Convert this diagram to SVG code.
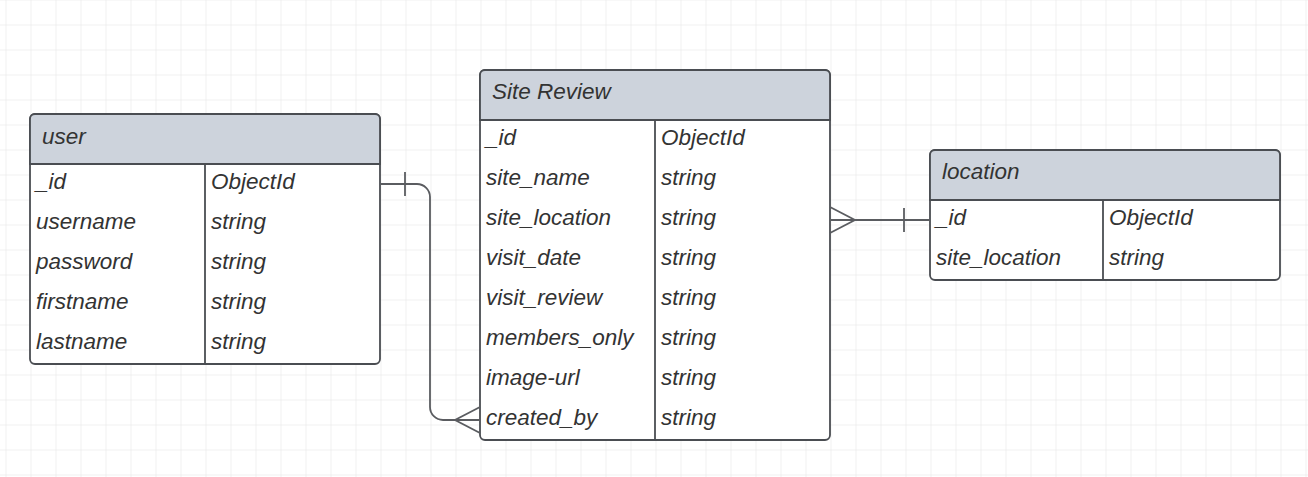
<svg xmlns="http://www.w3.org/2000/svg" width="1308" height="477" viewBox="0 0 1308 477">
<defs>
<pattern id="grid" x="5.5" y="-0.5" width="25" height="25" patternUnits="userSpaceOnUse">
<path d="M0 0H25M0 0V25" fill="none" stroke="#e3e3e3" stroke-width="1"/>
</pattern>
</defs>
<style>
.box{fill:#ffffff;stroke:#4a4d52;stroke-width:1.8}
.hdr{fill:#cdd3dc;stroke:#4a4d52;stroke-width:1.8}
.ln{stroke:#4a4d52;stroke-width:1.8;fill:none}
.t{font-family:"Liberation Sans",Arial,sans-serif;font-style:italic;font-size:22.5px;fill:#333333}
.cn{stroke:#5a5c60;stroke-width:1.8;fill:none}
</style>
<rect width="1308" height="477" fill="#ffffff"/>
<rect width="1308" height="477" fill="url(#grid)"/>

<g id="user">
<rect class="box" x="30" y="114" width="350" height="250" rx="5"/>
<path class="hdr" d="M30 164V119a5 5 0 0 1 5-5H375a5 5 0 0 1 5 5V164Z"/>
<path class="ln" d="M205 164V364"/>
<text class="t" x="42" y="144">user</text>
<text class="t" x="36" y="188.5">_id</text><text class="t" x="211" y="188.5">ObjectId</text>
<text class="t" x="36" y="228.5">username</text><text class="t" x="211" y="228.5">string</text>
<text class="t" x="36" y="268.5">password</text><text class="t" x="211" y="268.5">string</text>
<text class="t" x="36" y="308.5">firstname</text><text class="t" x="211" y="308.5">string</text>
<text class="t" x="36" y="348.5">lastname</text><text class="t" x="211" y="348.5">string</text>
</g>

<g id="site-review">
<rect class="box" x="480" y="70" width="350" height="370" rx="5"/>
<path class="hdr" d="M480 120V75a5 5 0 0 1 5-5H825a5 5 0 0 1 5 5V120Z"/>
<path class="ln" d="M655 120V440"/>
<text class="t" x="492" y="99">Site Review</text>
<text class="t" x="486" y="144.5">_id</text><text class="t" x="661" y="144.5">ObjectId</text>
<text class="t" x="486" y="184.5">site_name</text><text class="t" x="661" y="184.5">string</text>
<text class="t" x="486" y="224.5">site_location</text><text class="t" x="661" y="224.5">string</text>
<text class="t" x="486" y="264.5">visit_date</text><text class="t" x="661" y="264.5">string</text>
<text class="t" x="486" y="304.5">visit_review</text><text class="t" x="661" y="304.5">string</text>
<text class="t" x="486" y="344.5">members_only</text><text class="t" x="661" y="344.5">string</text>
<text class="t" x="486" y="384.5">image-url</text><text class="t" x="661" y="384.5">string</text>
<text class="t" x="486" y="424.5">created_by</text><text class="t" x="661" y="424.5">string</text>
</g>

<g id="location">
<rect class="box" x="930" y="150" width="350" height="130" rx="5"/>
<path class="hdr" d="M930 200V155a5 5 0 0 1 5-5H1275a5 5 0 0 1 5 5V200Z"/>
<path class="ln" d="M1103 200V280"/>
<text class="t" x="942" y="179">location</text>
<text class="t" x="936" y="224.5">_id</text><text class="t" x="1109" y="224.5">ObjectId</text>
<text class="t" x="936" y="264.5">site_location</text><text class="t" x="1109" y="264.5">string</text>
</g>

<g id="connectors">
<path class="cn" d="M380 184H417a13 13 0 0 1 13 13V407a13 13 0 0 0 13 13H480"/>
<path class="cn" d="M405 172V196"/>
<path class="cn" d="M480 407L455 420L480 433"/>
<path class="cn" d="M830 220H930"/>
<path class="cn" d="M830 207L855 220L830 233"/>
<path class="cn" d="M904 208V232"/>
</g>
</svg>
